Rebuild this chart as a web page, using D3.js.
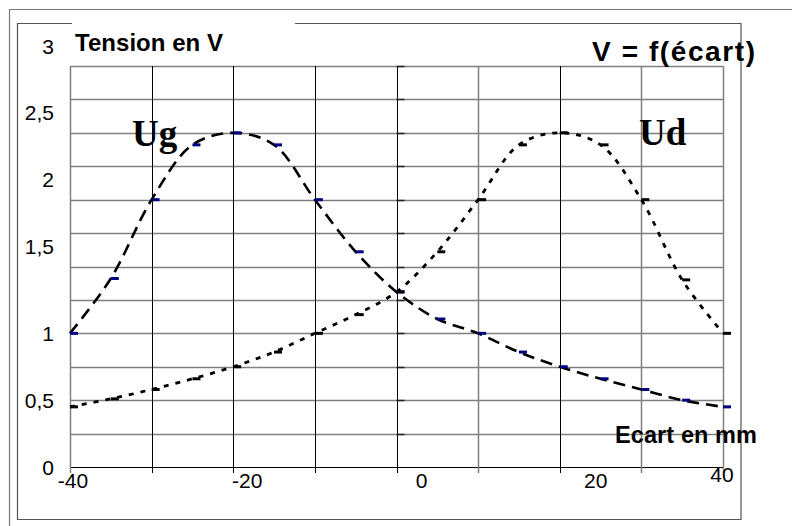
<!DOCTYPE html>
<html><head><meta charset="utf-8">
<script src="https://cdn.jsdelivr.net/npm/d3@7"></script>
<style>html,body{margin:0;padding:0;background:#fff}svg{display:block}</style>
</head><body>
<script>
const ecart = [-40,-35,-30,-25,-20,-15,-10,-5,0,5,10,15,20,25,30,35,40];
const ug = [1.0,1.41,2.0,2.41,2.5,2.41,2.0,1.61,1.31,1.107,1.0,0.86,0.75,0.66,0.58,0.50,0.45];
const ud = [0.45,0.51,0.58,0.66,0.75,0.86,1.0,1.14,1.31,1.61,2.0,2.41,2.5,2.41,2.0,1.40,1.0];
const yTicks = [0,0.5,1,1.5,2,2.5,3];
const yTickLabels = ["0","0,5","1","1,5","2","2,5","3"];
const xTicks = [-40,-20,0,20,40];
const xTickLabels = ["-40","-20","0","20","40"];
const yGrid = d3.range(0,3.001,0.25);
const xGrid = d3.range(-40,40.001,10);

const W=792,H=526;
const svg=d3.select("body").append("svg").attr("width",W).attr("height",H);
const x=d3.scaleLinear().domain([-40,40]).range([70,723]);
const y=d3.scaleLinear().domain([0,3]).range([467,66]);
const sans="'Liberation Sans', Arial, sans-serif";
const serif="'Liberation Serif', 'Times New Roman', serif";

// frames
svg.append("path").attr("d","M9.5,526 V9.5 H792").attr("fill","none").attr("stroke","#777").attr("stroke-width",1.2);
svg.append("path").attr("d","M72,23.5 H17.5 V519.5 H741 V23.5 H295").attr("fill","none").attr("stroke","#555").attr("stroke-width",1.2);

// horizontal grid
svg.append("g").selectAll("line").data(yGrid).join("line")
  .attr("x1",x(-40)).attr("x2",x(40)).attr("y1",d=>Math.round(y(d))+0.5).attr("y2",d=>Math.round(y(d))+0.5)
  .attr("stroke",d=>d===0?"#000":"#808080").attr("stroke-width",d=>d===0?1.2:1.5);
// vertical grid
const blackX = new Set([-30,-20,-10,0,20]);
svg.append("g").selectAll("line").data(xGrid).join("line")
  .attr("x1",d=>Math.round(x(d))+0.5).attr("x2",d=>Math.round(x(d))+0.5).attr("y1",y(3)).attr("y2",y(0)+6)
  .attr("stroke",d=>blackX.has(d)?"#000":"#808080").attr("stroke-width",d=>blackX.has(d)?1:1.5);
// y ticks on x=0 axis
svg.append("g").selectAll("line").data(yGrid.filter(d=>d>0)).join("line")
  .attr("x1",x(0)).attr("x2",x(0)+8).attr("y1",d=>Math.round(y(d))+0.5).attr("y2",d=>Math.round(y(d))+0.5)
  .attr("stroke","#222").attr("stroke-width",1.5);

// y tick labels
svg.append("g").selectAll("text").data(yTicks).join("text")
  .attr("x",54).attr("y",(d)=>y(d)+(d>=1.5?-20:0)).attr("dy","0.36em")
  .attr("text-anchor","end").attr("font-family",sans).attr("font-size",21)
  .text((d,i)=>yTickLabels[i]);
// x tick labels
const xl=d3.scaleLinear().domain([-40,20]).range([x(-40)+3,x(20)+36]);
svg.append("g").selectAll("text").data(xTicks).join("text")
  .attr("x",d=>d===40?x(40)-1:xl(d)).attr("y",d=>d===40?482:488)
  .attr("text-anchor","middle").attr("font-family",sans).attr("font-size",21)
  .text((d,i)=>xTickLabels[i]);

// curves
const pts=(vals)=>ecart.map((e,i)=>[x(e),y(vals[i])]);
const line=d3.line().curve(d3.curveCatmullRom.alpha(0.5));
svg.append("path").attr("d",line(pts(ug))).attr("fill","none").attr("stroke","#000")
  .attr("stroke-width",2.6).attr("stroke-dasharray","12,7");
svg.append("path").attr("d",line(pts(ud))).attr("fill","none").attr("stroke","#000")
  .attr("stroke-width",2.8).attr("stroke-dasharray","5,7");
// markers
svg.append("g").selectAll("line").data(pts(ug)).join("line")
  .attr("x1",d=>d[0]).attr("x2",d=>d[0]+8).attr("y1",d=>d[1]).attr("y2",d=>d[1])
  .attr("stroke","#000080").attr("stroke-width",3);
svg.append("g").selectAll("line").data(pts(ud)).join("line")
  .attr("x1",d=>d[0]).attr("x2",d=>d[0]+8).attr("y1",d=>d[1]).attr("y2",d=>d[1])
  .attr("stroke","#000").attr("stroke-width",3);

// texts
svg.append("text").attr("x",75).attr("y",51).attr("font-family",sans).attr("font-weight","bold")
  .attr("font-size",24).attr("textLength",148).text("Tension en V");
svg.append("text").attr("x",592).attr("y",61).attr("font-family",sans).attr("font-weight","bold")
  .attr("font-size",28).attr("textLength",163).text("V = f(écart)");
svg.append("text").attr("x",615).attr("y",443).attr("font-family",sans).attr("font-weight","bold")
  .attr("font-size",23.5).attr("textLength",142).text("Ecart en mm");
svg.append("text").attr("x",132).attr("y",146).attr("font-family",serif).attr("font-weight","bold")
  .attr("font-size",37).text("Ug");
svg.append("text").attr("x",639).attr("y",145).attr("font-family",serif).attr("font-weight","bold")
  .attr("font-size",37).text("Ud");
</script>
</body></html>
